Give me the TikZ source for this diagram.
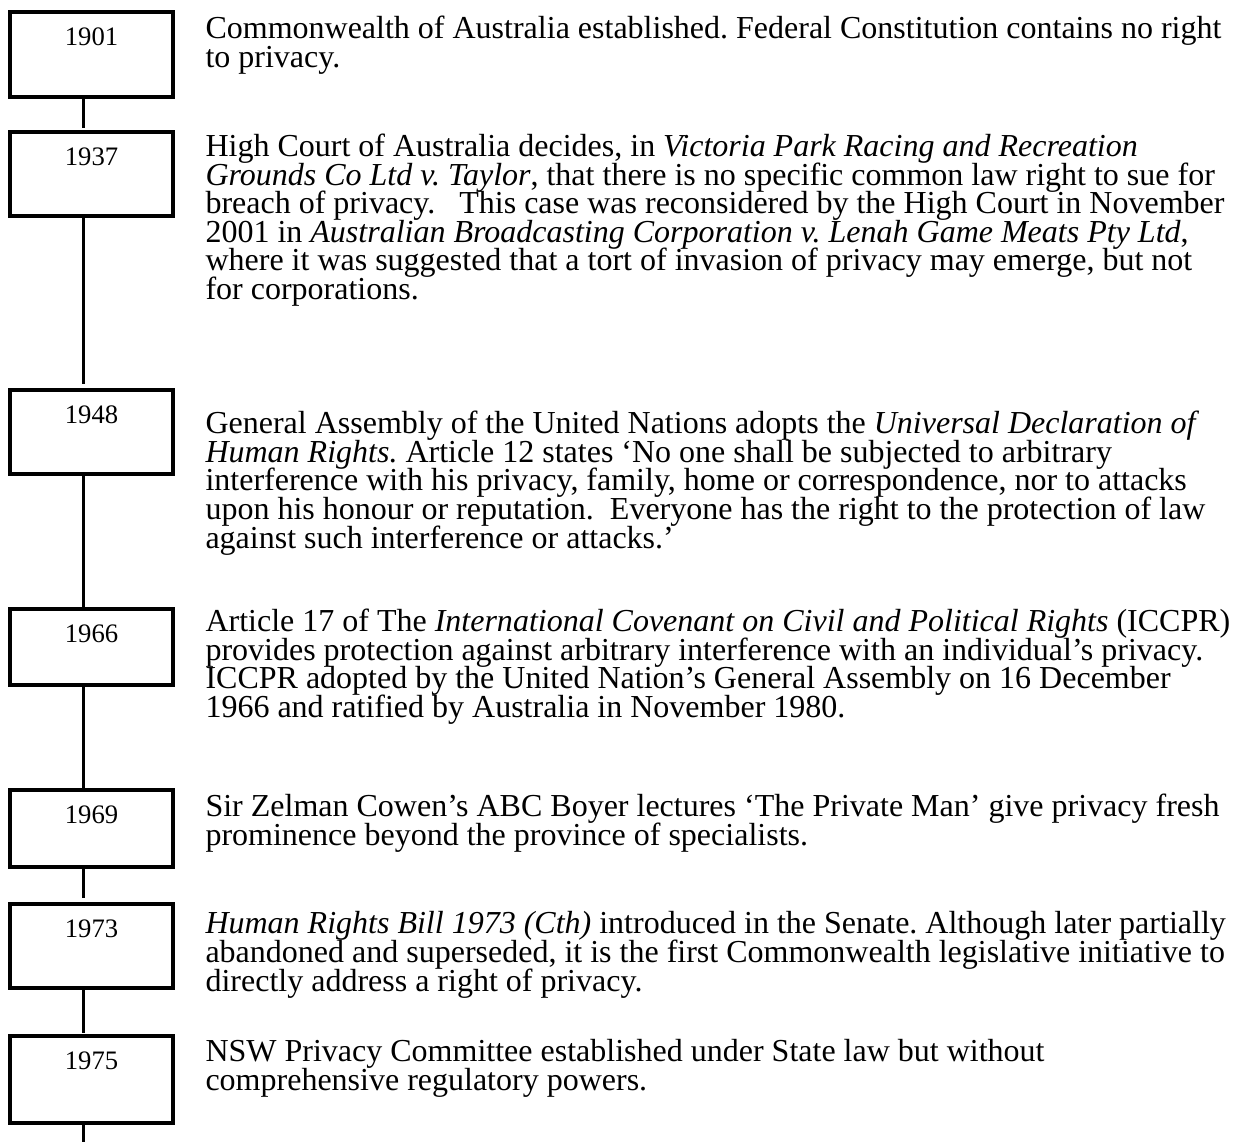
\documentclass[tikz,border=0pt]{standalone}
\usepackage{fontspec}
\setmainfont{Liberation Serif}
\usetikzlibrary{calc}
\begin{document}
\begin{tikzpicture}[x=0.375pt,y=-0.375pt,
  yearbox/.style={draw, line width=1.5pt, rectangle, inner sep=0pt, outer sep=0pt, minimum width=61.125pt},
  yearlbl/.style={anchor=base, inner sep=0pt, font=\fontsize{10pt}{12pt}\selectfont},
  conn/.style={line width=1.3pt},
  entry/.style={anchor=base west, align=left, inner sep=0pt, font={\fontsize{12pt}{10.7pt}\selectfont\lineskiplimit=-20pt\frenchspacing}}]
\useasboundingbox (0,0) rectangle (1246,1142);
\coordinate (axis) at (83.3,0);
\coordinate (tail) at (83.3,1142);
% boxes
\node[yearbox, minimum height=31.875pt] (b1901) at (91.5,54.5) {};
\node[yearbox, minimum height=31.5pt] (b1937) at (91.5,174) {};
\node[yearbox, minimum height=31.5pt] (b1948) at (91.5,432) {};
\node[yearbox, minimum height=28.5pt] (b1966) at (91.5,647) {};
\node[yearbox, minimum height=28.875pt] (b1969) at (91.5,828.5) {};
\node[yearbox, minimum height=31.5pt] (b1973) at (91.5,946) {};
\node[yearbox, minimum height=32.625pt] (b1975) at (91.5,1079.5) {};
% year labels
\node[yearlbl] (y1901) at ($(b1901.north)+(0,33)$) {1901};
\node[yearlbl] (y1937) at ($(b1937.north)+(0,33)$) {1937};
\node[yearlbl] (y1948) at ($(b1948.north)+(0,33)$) {1948};
\node[yearlbl] (y1966) at ($(b1966.north)+(0,33)$) {1966};
\node[yearlbl] (y1969) at ($(b1969.north)+(0,33)$) {1969};
\node[yearlbl] (y1973) at ($(b1973.north)+(0,33)$) {1973};
\node[yearlbl] (y1975) at ($(b1975.north)+(0,33)$) {1975};
% connectors
\draw[conn, shorten >=1.5pt] (b1901.south -| axis) -- (b1937.north -| axis);
\draw[conn, shorten >=2.2pt] (b1937.south -| axis) -- (b1948.north -| axis);
\draw[conn] (b1948.south -| axis) -- (b1966.north -| axis);
\draw[conn] (b1966.south -| axis) -- (b1969.north -| axis);
\draw[conn, shorten >=2.2pt] (b1969.south -| axis) -- (b1973.north -| axis);
\draw[conn, shorten >=1.2pt] (b1973.south -| axis) -- (b1975.north -| axis);
\draw[conn] (b1975.south -| axis) -- (tail);
% texts (anchored at the baseline of the last line)
\node[entry] (t1901) at (205,67.5) {Commonwealth of Australia established. Federal Constitution contains no right\\to privacy.};
\node[entry] (t1937) at (205,299.5) {High Court of Australia decides, in \textit{Victoria Park Racing and Recreation}\\\textit{Grounds Co Ltd v. Taylor}, that there is no specific common law right to sue for\\breach of privacy.\ \ \ This case was reconsidered by the High Court in November\\2001 in \textit{Australian Broadcasting Corporation v. Lenah Game Meats Pty Ltd},\\where it was suggested that a tort of invasion of privacy may emerge, but not\\for corporations.};
\node[entry] (t1948) at (205,548) {General Assembly of the United Nations adopts the \textit{Universal Declaration of}\\\textit{Human Rights.} Article 12 states ‘No one shall be subjected to arbitrary\\interference with his privacy, family, home or correspondence, nor to attacks\\upon his honour or reputation.\ \ Everyone has the right to the protection of law\\against such interference or attacks.’};
\node[entry] (t1966) at (205,717.5) {Article 17 of The \textit{International Covenant on Civil and Political Rights} (ICCPR)\\provides protection against arbitrary interference with an individual’s privacy.\\ICCPR adopted by the United Nation’s General Assembly on 16 December\\1966 and ratified by Australia in November 1980.};
\node[entry] (t1969) at (205,845.5) {Sir Zelman Cowen’s ABC Boyer lectures ‘The Private Man’ give privacy fresh\\prominence beyond the province of specialists.};
\node[entry] (t1973) at (205,991) {\textit{Human Rights Bill 1973 (Cth)} introduced in the Senate. Although later partially\\abandoned and superseded, it is the first Commonwealth legislative initiative to\\directly address a right of privacy.};
\node[entry] (t1975) at (205,1090.5) {NSW Privacy Committee established under State law but without\\comprehensive regulatory powers.};
\end{tikzpicture}
\end{document}
